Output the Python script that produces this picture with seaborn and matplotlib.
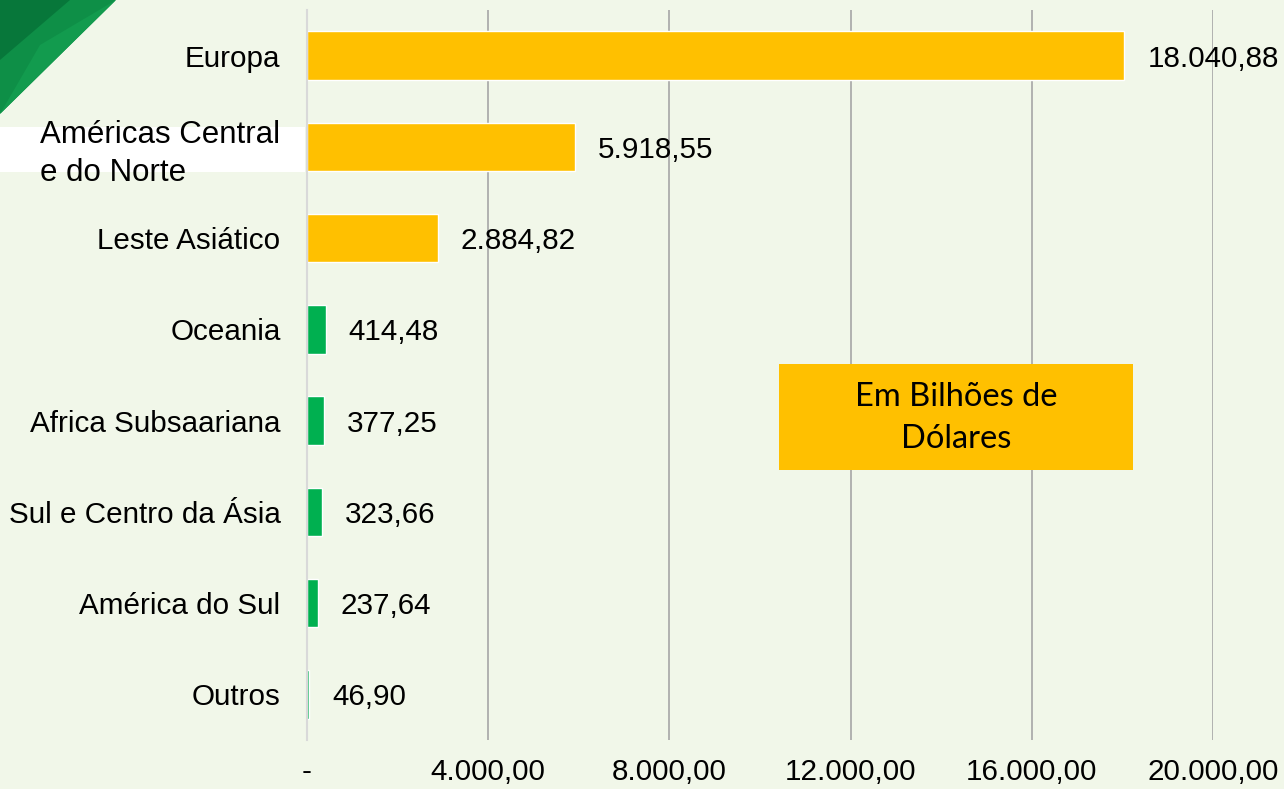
import matplotlib
matplotlib.use("Agg")
import matplotlib.pyplot as plt
import seaborn as sns
from matplotlib.patches import Polygon, Rectangle
from matplotlib.ticker import FuncFormatter

regions = ["Europa", "Américas Central\ne do Norte", "Leste Asiático", "Oceania",
           "Africa Subsaariana", "Sul e Centro da Ásia", "América do Sul", "Outros"]
values = [18040.88, 5918.55, 2884.82, 414.48, 377.25, 323.66, 237.64, 46.90]
value_labels = ["18.040,88", "5.918,55", "2.884,82", "414,48", "377,25", "323,66", "237,64", "46,90"]
bar_colors = ["#FFC000", "#FFC000", "#FFC000", "#00B050", "#00B050", "#00B050", "#00B050", "#00B050"]
xticks = [0, 4000, 8000, 12000, 16000, 20000]
note = "Em Bilhões de\nDólares"

bg = "#F1F7E9"
sns.set_style("white")
plt.rcParams["font.family"] = ["Liberation Sans", "DejaVu Sans"]
plt.rcParams["text.color"] = "black"
plt.rcParams["xtick.color"] = "black"
plt.rcParams["ytick.color"] = "black"

W, H = 1284, 789
fs = 21.3
fig = plt.figure(figsize=(W / 100, H / 100), dpi=100, facecolor=bg)

# decorative green corner
def px(pts):
    return [(x / W, 1 - y / H) for x, y in pts]

fig.patches.append(Polygon(px([(0, 0), (116, 0), (0, 114)]), closed=True,
                           facecolor="#0E8F47", edgecolor="none", transform=fig.transFigure))
fig.patches.append(Polygon(px([(0, 0), (70, 0), (0, 60)]), closed=True,
                           facecolor="#07773A", edgecolor="none", transform=fig.transFigure))
fig.patches.append(Polygon(px([(40, 45), (116, 0), (0, 114)]), closed=True,
                           facecolor="#129B4E", edgecolor="none", transform=fig.transFigure))
# white band behind the two-line label
fig.patches.append(Rectangle((0, 1 - 172 / H), 305 / W, 45 / H, facecolor="white",
                             edgecolor="none", transform=fig.transFigure))

ax = fig.add_axes([307 / W, 1 - 740 / H, (1213 - 307) / W, 730 / H])
ax.set_facecolor("none")

sns.barplot(x=values, y=regions, hue=regions, palette=bar_colors, legend=False,
            orient="h", width=0.53, saturation=1, ax=ax)

ax.set_xlim(0, 20000)
ax.set_ylim(7.5, -0.5)
ax.set_xticks(xticks)
ax.xaxis.set_major_formatter(FuncFormatter(
    lambda v, p: "-" if v == 0 else f"{v:,.2f}".replace(",", "X").replace(".", ",").replace("X", ".")))
ax.grid(axis="x", color="#A6A6A6", linewidth=1.2)
ax.set_axisbelow(True)
for s in ["top", "right", "bottom"]:
    ax.spines[s].set_visible(False)
ax.spines["left"].set_color("#D9D9D9")
ax.spines["left"].set_linewidth(1.5)
ax.tick_params(axis="x", length=0, pad=13, labelsize=fs)
ax.tick_params(axis="y", length=0, pad=19, labelsize=fs)
ax.set_xlabel("")
ax.set_ylabel("")

labels = ax.get_yticklabels()
labels[1].set_text("")
ax.set_yticklabels(labels)
fig.text(40 / W, 1 - 154 / H, regions[1], ha="left", va="center", fontsize=22.5,
         linespacing=1.33)

for i, (v, t) in enumerate(zip(values, value_labels)):
    ax.annotate(t, (v, i), xytext=(23, 0), textcoords="offset pixels",
                ha="left", va="center_baseline", fontsize=fs)

fig.patches.append(Rectangle((779 / W, 1 - 470 / H), 354 / W, 106 / H, facecolor="#FFC000",
                             edgecolor="none", transform=fig.transFigure, zorder=5))
fig.text(956 / W, 1 - 418 / H, note, ha="center", va="center", fontsize=23.5,
         family=["Lato", "DejaVu Sans"], linespacing=1.5, zorder=6)

fig.savefig("out.png", dpi=100, facecolor=bg)
